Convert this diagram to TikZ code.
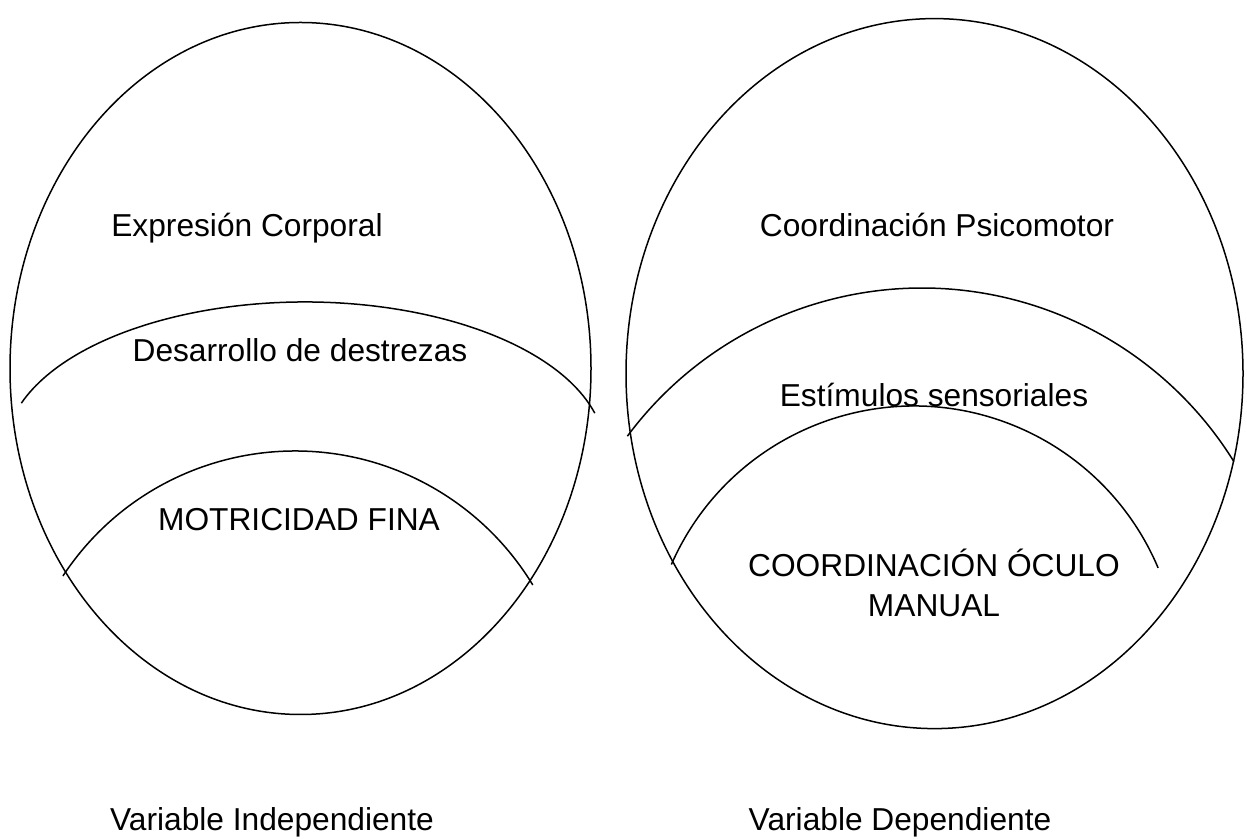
\documentclass[tikz,border=0pt]{standalone}
\usepackage{fontspec}
\setmainfont{Liberation Sans}

\begin{document}
\begin{tikzpicture}[x=1pt, y=1pt,
        zone/.style={draw, line width=1.5pt},
        lbl/.style={font=\fontsize{31.7}{40}\selectfont, inner sep=0pt, anchor=base, align=center}]
        \useasboundingbox (0,0) rectangle (1247,838);

        % Ovals
        \draw[zone] (300.5,469.5) ellipse [x radius=290.5, y radius=346];
        \draw[zone] (934.5,464.4) ellipse [x radius=308.5, y radius=355];

        % Arcs
        \draw[zone] (305,386) ++(161:300 and 150) arc[start angle=161, end angle=15, x radius=300, y radius=150];
        \draw[zone] (295,109) ++(146.6:278) arc[start angle=146.6, end angle=31.2, radius=278];
        \draw[zone] (922,183) ++(143.4:367) arc[start angle=143.4, end angle=31.8, radius=367];
        \draw[zone] (914,167) ++(156.3:265) arc[start angle=156.3, end angle=22.9, radius=265];

        % Nodes
        \node[lbl] (expr) at (247,601) {Expresión Corporal};
        \node[lbl] (desa) at (300,476) {Desarrollo de destrezas};
        \node[lbl] (moto) at (299,307) {MOTRICIDAD FINA};
        \node[lbl] (coord) at (937,601) {Coordinación Psicomotor};
        \node[lbl] (esti) at (934,431) {Estímulos sensoriales};
        \node[lbl] (ocul) at (934,221) {COORDINACIÓN ÓCULO\\MANUAL};
        \node[lbl] (vind) at (272,8) {Variable Independiente};
        \node[lbl] (vdep) at (900,8) {Variable Dependiente};
    \end{tikzpicture}
\end{document}
